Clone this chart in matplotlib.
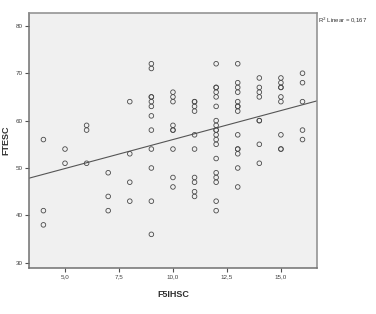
import numpy as np
import matplotlib
matplotlib.use("Agg")
import matplotlib.pyplot as plt

plt.rcParams['font.family'] = ['Liberation Sans', 'DejaVu Sans']

# F5IHSC value -> FTESC values
f5ihsc_levels = [4, 5, 6, 7, 8, 9, 10, 11, 12, 13, 14, 15, 16]
ftesc_groups = [
    [56, 41, 38],
    [54, 51],
    [59, 58, 51],
    [49, 44, 41],
    [64, 53, 47, 43],
    [72, 71, 65, 65, 64, 63, 61, 58, 54, 50, 43, 36],
    [66, 65, 64, 59, 58, 58, 54, 48, 46],
    [64, 64, 63, 62, 57, 54, 48, 47, 45, 44],
    [72, 67, 67, 66, 65, 63, 60, 59, 58, 58, 57, 56, 55, 52, 49, 48, 47, 43, 41],
    [72, 68, 67, 66, 64, 63, 63, 62, 57, 54, 54, 53, 50, 46],
    [69, 67, 66, 65, 60, 60, 55, 51],
    [69, 68, 67, 67, 65, 64, 57, 54, 54],
    [70, 68, 64, 58, 56],
]
r2_label = "R$^2$ Linear = 0,167"

x_ticks = [5.0, 7.5, 10.0, 12.5, 15.0]
x_tick_labels = ["5,0", "7,5", "10,0", "12,5", "15,0"]
y_ticks = [30, 40, 50, 60, 70, 80]

# flatten groups into x/y arrays
xs = []
ys = []
for lvl, grp in zip(f5ihsc_levels, ftesc_groups):
    for v in grp:
        xs.append(lvl)
        ys.append(v)
xs = np.array(xs, dtype=float)
ys = np.array(ys, dtype=float)

fig = plt.figure(figsize=(3.76, 3.14), dpi=100)
ax = fig.add_axes([0.077, 0.1465, 0.766, 0.812])
ax.set_facecolor('#f0f0f0')

ax.scatter(xs, ys, s=11, facecolors='none', edgecolors='#4a4a4a', linewidths=0.6, zorder=3)

# linear fit line across the whole x range
xlim = (3.33, 16.67)
slope, intercept = np.polyfit(xs, ys, 1)
line_x = np.array(xlim)
ax.plot(line_x, intercept + slope * line_x, color='#555555', linewidth=0.8, zorder=2)

ax.set_xlim(*xlim)
ax.set_ylim(28.9, 82.7)
ax.set_xticks(x_ticks)
ax.set_xticklabels(x_tick_labels)
ax.set_yticks(y_ticks)

for side in ['left', 'bottom', 'top', 'right']:
    ax.spines[side].set_color('#8c8c8c')
    ax.spines[side].set_linewidth(1.1)
ax.spines['left'].set_color('#707070')
ax.spines['bottom'].set_color('#707070')

ax.tick_params(axis='both', direction='out', length=3, width=0.8, color='#505050',
               labelsize=4.5, labelcolor='#404040', pad=1.5)

ax.set_xlabel("F5IHSC", fontsize=6.5, fontweight='bold', color='#303030', labelpad=8)
ax.set_ylabel("FTESC", fontsize=6.5, fontweight='bold', color='#303030', labelpad=4)

fig.text(0.846, 0.95, r2_label, fontsize=4.3, color='#303030', va='top', ha='left')

fig.savefig("out.png", dpi=100)
